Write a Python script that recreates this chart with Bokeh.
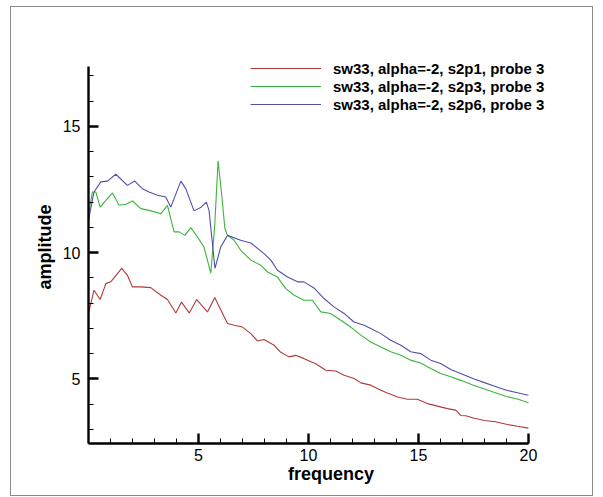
from bokeh.plotting import figure
from bokeh.models import FixedTicker, Range1d, Legend, LegendItem, InlineStyleSheet
from bokeh.embed import file_html
from bokeh.resources import INLINE

# ---- data ----
freq_p1 = [0.0, 0.25, 0.53, 0.79, 1.01, 1.51, 1.77, 2.0, 2.38, 2.83, 3.29, 3.59, 3.97, 4.23, 4.58,
           4.92, 5.41, 5.74, 6.01, 6.32, 6.62, 7.0, 7.38, 7.68, 7.98, 8.44, 8.74, 9.12, 9.42, 9.8,
           10.33, 10.79, 11.24, 11.62, 12.07, 12.38, 12.83, 13.29, 13.59, 14.05, 14.5, 14.95, 15.41,
           15.86, 16.32, 16.7, 16.92, 17.15, 17.5, 18.0, 18.5, 19.0, 19.5, 20.0]
amp_p1 = [7.59, 8.51, 8.14, 8.77, 8.84, 9.37, 9.1, 8.64, 8.64, 8.61, 8.31, 8.14, 7.61, 8.04, 7.61,
          8.14, 7.65, 8.22, 7.74, 7.19, 7.12, 7.05, 6.79, 6.5, 6.56, 6.33, 6.05, 5.87, 5.93, 5.8,
          5.6, 5.34, 5.31, 5.14, 5.01, 4.84, 4.75, 4.55, 4.44, 4.28, 4.19, 4.19, 4.02,
          3.92, 3.82, 3.76, 3.55, 3.54, 3.45, 3.35, 3.3, 3.2, 3.12, 3.05]

freq_p3 = [0.0, 0.18, 0.33, 0.53, 0.79, 1.09, 1.39, 1.7, 2.0, 2.38, 2.75, 3.29, 3.59, 3.89, 4.12,
           4.38, 4.65, 4.95, 5.25, 5.56, 5.74, 5.89, 6.05, 6.2, 6.32, 6.62, 6.92, 7.38, 7.83, 8.14,
           8.59, 8.97, 9.35, 9.8, 10.18, 10.56, 11.01, 11.47, 11.92, 12.38, 12.83, 13.29, 13.74,
           14.2, 14.65, 15.1, 15.56, 16.01, 16.47, 16.92, 17.5, 18.0, 18.5, 19.0, 19.5, 20.0]
amp_p3 = [11.54, 12.4, 12.4, 11.8, 12.07, 12.36, 11.87, 11.91, 12.04, 11.74, 11.67, 11.54, 11.87, 10.82, 10.82,
          10.68, 10.99, 10.62, 10.22, 9.19, 11.08, 13.63, 12.34, 10.95, 10.68, 10.49, 10.09, 9.7, 9.5, 9.23,
          9.03, 8.57, 8.31, 8.11, 8.11, 7.65, 7.59, 7.32, 7.05, 6.73, 6.46, 6.26, 6.07,
          5.93, 5.74, 5.63, 5.41, 5.21, 5.08, 4.94, 4.75, 4.6, 4.45, 4.3, 4.2, 4.05]

freq_p6 = [0.0, 0.25, 0.56, 0.86, 1.24, 1.77, 2.1, 2.45, 2.75, 3.14, 3.51, 3.74, 4.2, 4.42, 4.8,
           5.1, 5.36, 5.48, 5.75, 6.01, 6.32, 6.92, 7.38, 7.98, 8.29, 8.59, 9.05, 9.5, 9.8, 10.25,
           10.71, 11.16, 11.62, 12.07, 12.53, 12.83, 13.29, 13.74, 14.2, 14.65, 15.1, 15.56, 16.01,
           16.47, 16.92, 17.5, 18.0, 18.5, 19.0, 19.5, 20.0]
amp_p6 = [11.28, 12.4, 12.8, 12.83, 13.1, 12.66, 12.83, 12.53, 12.4, 12.27, 12.2, 11.8, 12.83, 12.53, 11.65,
          11.78, 12.0, 11.67, 9.37, 10.22, 10.68, 10.49, 10.38, 9.96, 9.7, 9.3, 9.03, 8.84, 8.84, 8.6,
          8.18, 7.85, 7.59, 7.25, 7.12, 6.99, 6.79, 6.53, 6.33, 6.07, 6.0, 5.74, 5.61,
          5.37, 5.21, 5.0, 4.85, 4.7, 4.55, 4.45, 4.35]

labels = ["sw33, alpha=-2, s2p1, probe 3",
          "sw33, alpha=-2, s2p3, probe 3",
          "sw33, alpha=-2, s2p6, probe 3"]
colors = ["#b03a3a", "#3cb43c", "#5050a8"]

x_major = [5, 10, 15, 20]
x_minor = list(range(0, 21))
y_major = [5, 10, 15]
y_minor = list(range(2, 18))

FONT = "Liberation Sans"

border_css = InlineStyleSheet(css="""
:host::after {
  content: "";
  position: absolute;
  left: 10px; top: 6px; width: 581px; height: 488px;
  border: 1px solid #8a8a8a;
  pointer-events: none;
  z-index: 10;
}
""")

p = figure(width=603, height=497, output_backend="svg", toolbar_location=None,
           x_range=Range1d(0, 22.05), y_range=Range1d(2.44, 18.0),
           min_border_left=88, min_border_right=30, min_border_top=50, min_border_bottom=54)
p.stylesheets = [border_css]
p.background_fill_color = "white"
p.border_fill_color = "white"
p.outline_line_color = None
p.xgrid.visible = False
p.ygrid.visible = False

renderers = []
for fx, ay, c in [(freq_p1, amp_p1, colors[0]), (freq_p3, amp_p3, colors[1]), (freq_p6, amp_p6, colors[2])]:
    renderers.append(p.line(fx, ay, line_color=c, line_width=1.1))

for ax, major, minor in [(p.xaxis[0], x_major, x_minor), (p.yaxis[0], y_major, y_minor)]:
    ax.ticker = FixedTicker(ticks=major, minor_ticks=minor)
    ax.axis_line_width = 2.4
    ax.axis_line_color = "black"
    ax.major_tick_in = 10
    ax.major_tick_out = 0
    ax.minor_tick_in = 5
    ax.minor_tick_out = 0
    ax.major_tick_line_width = 2.4
    ax.minor_tick_line_width = 1
    ax.major_tick_line_color = "black"
    ax.minor_tick_line_color = "black"
    ax.major_label_text_font = FONT
    ax.major_label_text_font_size = "16px"
    ax.major_label_text_color = "black"
    ax.axis_label_text_font = FONT
    ax.axis_label_text_font_size = "18px"
    ax.axis_label_text_font_style = "bold"
    ax.axis_label_text_color = "black"

p.xaxis.bounds = (0, 20)
p.yaxis.bounds = (2.44, 17.37)
p.xaxis.axis_label = "frequency"
p.yaxis.axis_label = "amplitude"
p.xaxis.major_label_standoff = 5
p.xaxis.axis_label_standoff = 0
p.yaxis.major_label_standoff = 8
p.yaxis.axis_label_standoff = 5

legend = Legend(items=[LegendItem(label=l, renderers=[r]) for l, r in zip(labels, renderers)],
                location=(162, 330))
legend.label_text_font = FONT
legend.label_text_font_size = "15px"
legend.label_text_font_style = "bold"
legend.label_text_color = "black"
legend.glyph_width = 71
legend.glyph_height = 18
legend.label_height = 18
legend.label_standoff = 12
legend.spacing = 0
legend.padding = 0
legend.margin = 0
legend.border_line_color = None
legend.background_fill_alpha = 0
p.add_layout(legend, "center")

open("out.html", "w").write(file_html(p, INLINE))
